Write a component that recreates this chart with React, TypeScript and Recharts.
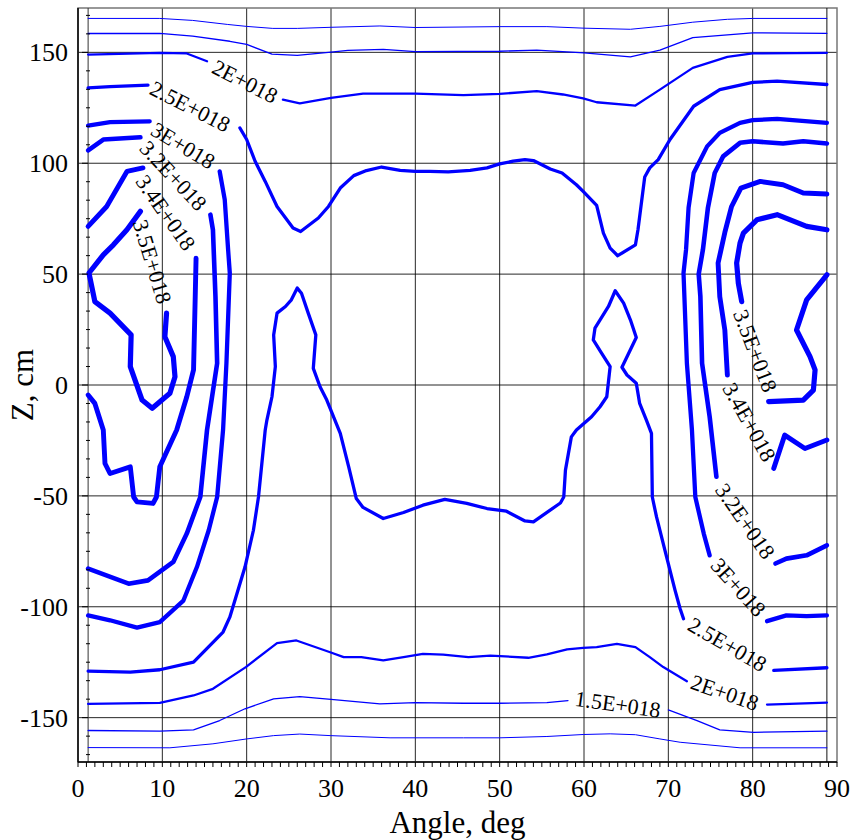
import React from "react";
import {
  ComposedChart,
  Line,
  Scatter,
  XAxis,
  YAxis,
  CartesianGrid,
  ReferenceLine,
  ReferenceArea,
} from "recharts";

type Pt = [number, number]; // [angle, deg ; Z, cm]

// ---- contour lines ----
const lv10Top: Pt[] = [[1.2,165.3],[9.7,165.3],[13.6,164.4],[17.7,162.6],[20,161.7],[23.1,160.8],[26,160.8],[30,161.3],[35.8,161.9],[40,161.2],[50,161.6],[55.6,161.6],[60,160.9],[65.5,160.4],[69,161.7],[72.9,163.6],[77,164.9],[80,165.3],[88.8,165.3]];
const lv10Bottom: Pt[] = [[1.2,-163.5],[10.9,-163.6],[16,-161.8],[20,-159.6],[23.2,-158.1],[26.3,-157.4],[29.9,-158.1],[37,-159.1],[45.7,-159.1],[50,-159.1],[55.6,-158.5],[59.9,-157.6],[63.1,-157.3],[66.1,-157.7],[69,-159.6],[71.4,-161.1],[78.5,-163.6],[88.8,-163.6]];

const lv15Top: Pt[] = [[1.2,158.5],[9.7,158.6],[13.6,157.3],[18,155],[20,153.6],[23,149.2],[26,148.6],[30,150.1],[32,150.9],[36.2,151.3],[40,150.3],[50,150.5],[54.4,151],[60,149.8],[65.5,148],[69,151],[72.9,156.6],[80,158.8],[88.8,158.6]];
const lv15BottomA: Pt[] = [[1.2,-155.8],[9.7,-156.1],[13.7,-155.5],[16.8,-151.3],[19.8,-146],[23.2,-141.5],[26.3,-140.5],[30,-141.8],[35.8,-143.8],[40,-143.2],[45.7,-143.5],[50,-143.5],[55.6,-143.2],[58.1,-142.3]];
const lv15BottomB: Pt[] = [[70,-146.5],[73.4,-151.3],[76.1,-155.5],[80.1,-156.6],[88.8,-156.1]];

const lv20TopA: Pt[] = [[1.2,149],[9.7,149.8],[12.9,149.5],[15.3,146]];
const lv20TopB: Pt[] = [[24.3,128.7],[26.3,127],[30,129.5],[33.8,131.4],[40,131.4],[45.7,130.7],[50,131.3],[54.4,132.5],[57.5,131],[59.9,129.2],[61.5,127.5],[66.1,126],[69,133.2],[72.9,143],[77,148],[80,149.5],[88.8,149.8]];
const lv20BottomA: Pt[] = [[1.2,-143.8],[9.7,-143.3],[13.7,-140],[16,-137],[19.9,-127.2],[23.6,-116.4],[25.9,-115.2],[29.9,-120.5],[31.5,-122.7],[33.6,-122.7],[36.2,-124.2],[38.6,-122.7],[40.9,-121.2],[43.3,-121.6],[46.3,-122.7],[48.9,-122],[53.4,-123],[55.6,-121.5],[58,-119.2],[59.9,-118.5],[61.5,-118.2],[63.9,-116.7],[66.1,-118.2],[67.8,-122.7],[69.4,-127.2],[72.2,-133.6]];
const lv20BottomB: Pt[] = [[81.7,-144.1],[88.8,-143.2]];

const lv25TopA: Pt[] = [[1.2,134],[3.8,134.5],[8.3,135.2]];
const lv25TopB: Pt[] = [[19.2,115.9],[20,110.7],[21,100.9],[22.2,91.8],[23.6,80.5],[25.5,70.8],[26.4,69.2],[28.5,75.3],[29.7,80.5],[31.1,88.8],[32.7,94.4],[34.2,96.7],[36,98.3],[38.2,96.8],[40,96.3],[41.7,96.3],[43.9,96.1],[46.5,96.8],[48.5,97.9],[50,99.7],[51.6,100.9],[53,101.6],[54,101.2],[56,97.4],[57.4,95.6],[59.1,90.3],[59.9,87.3],[61.5,81],[62.3,68.5],[63.1,61.7],[64,58.3],[66.1,63.2],[66.4,70],[67.2,93.8],[67.8,97.9],[68.8,101.6],[70.2,110.7],[73,125.7],[76.1,133.2],[80,136.5],[82.9,137],[88.8,135.5]];
const lv25BottomA: Pt[] = [[1.2,-129],[6.2,-129.5],[9.7,-128.4],[13.7,-125],[17.2,-111.4],[18,-104.7],[19.2,-89.6],[19.8,-82.1],[20.8,-65.5],[21.4,-50.5],[21.8,-35.4],[22.2,-20.3],[22.4,-15.8],[23,-5.3],[23.4,8.3],[23.2,22.6],[23.6,32.4],[24.6,35.4],[25.3,38.4],[26,43.7],[26.5,41.4],[27.3,32.4],[28.2,22.6],[27.9,7.5],[28.7,-0.8],[29.5,-6.8],[31.1,-21.8],[32.1,-36.9],[33,-51.2],[33.8,-55.2],[36.2,-60.2],[38.6,-57.5],[40.9,-54.2],[43.5,-51.6],[46.1,-53.4],[48.5,-55.7],[50.8,-56.9],[53,-61.3],[54,-61.7],[57.2,-53.2],[57.6,-50.5],[57.8,-38.4],[58.5,-23.4],[59.1,-20.3],[60.9,-14.3],[61.9,-9.8],[62.7,-5.3],[63.1,8.3],[62.1,14.3],[61.1,20.3],[61.3,25.6],[62.9,35.4],[63.7,42.5],[64.7,36.9],[65.5,29.4],[66.2,21.4],[64.5,8],[65.1,4.5],[66.2,0.8],[66.6,-8.3],[67.4,-15.8],[68,-21.8],[68.1,-50.5],[68.6,-59.5],[69.8,-77.6],[70.8,-92.6],[71.4,-100.9],[71.8,-105.4]];
const lv25BottomB: Pt[] = [[82.5,-128.7],[88.8,-127.5]];

const lv30LeftA: Pt[] = [[1.2,117],[3.8,118.5],[8.5,118.9]];
const lv30LeftB: Pt[] = [[16.8,96.3],[17.4,83.6],[17.8,61],[18,50.5],[17.6,9.8],[17.2,-20.3],[16.5,-50.5],[15.5,-65.5],[14.1,-82.1],[12.5,-97.2],[9.7,-106.9],[7,-109.4],[3.8,-106.1],[1.2,-103.9]];
const lv30RightA: Pt[] = [[88.8,118.2],[82.9,120],[80,119.4],[78.5,118.2],[76.1,113.7],[74.6,107.6],[73,95.6],[72.4,80],[72.1,61],[71.8,50.5],[72.2,9.8],[72.8,-20.3],[73.2,-50.5],[74.2,-67],[74.9,-76.8]];
const lv30RightB: Pt[] = [[81.7,-106.5],[84,-103.9],[86.4,-104.2],[88.8,-103.9]];

const lv32LeftA: Pt[] = [[1.2,105.8],[3,110.7],[7.4,111.7]];
const lv32LeftB: Pt[] = [[15.7,76.8],[16,70],[16.3,39.9],[16.5,9.8],[15.3,-20.3],[14.5,-50.5],[12.9,-67],[11.3,-79.8],[8.3,-88.1],[6,-89.6],[1.2,-82.8]];
const lv32RightA: Pt[] = [[88.8,108.9],[86,109.9],[83.6,108.9],[80,109.9],[78.5,109.2],[76.5,103.1],[75.5,95.6],[74.7,80],[74.1,61],[73.6,50],[73.8,39.9],[74,9.8],[74.9,-14.3],[75.7,-41.4]];
const lv32RightB: Pt[] = [[82.7,-80.5],[84,-78.3],[86.4,-76.8],[88.8,-72.3]];

const lv34LeftA: Pt[] = [[1.2,71.5],[3.4,80.5],[5.8,96.3],[7.7,97.9]];
const lv34LeftB: Pt[] = [[14,57.2],[13.9,39.9],[13.7,6.8],[12.9,-5.3],[11.7,-20.3],[9.7,-36.9],[9.3,-50.5],[8.9,-53.4],[7,-52.7],[6.6,-50.5],[6.2,-36.9],[3.8,-39.9],[3.2,-35.4],[3,-20.3],[2,-8.3],[1.2,-4.5]];
const lv34RightA: Pt[] = [[88.8,86.1],[86,86.6],[83.6,90.3],[80.9,91.8],[78.6,88.8],[77.5,80.5],[76.7,68.8],[75.9,55],[76.1,39.9],[76.7,24.8],[77,4.5]];
const lv34RightB: Pt[] = [[82.5,-37.6],[83.8,-22.6],[86.2,-28.6],[88.8,-24.8]];

const lv35Left: Pt[] = [[7.4,78.3],[5.8,70],[4.2,63.2],[3,58.7],[1.3,50.5],[2,37.6],[3.8,32.4],[6.3,22.6],[6.2,8.3],[7.6,-6.8],[8.8,-10.5],[10.9,-3.7],[11.5,3.7],[11.3,12.8],[10.3,21.8],[10.5,32.4]];
const lv35RightA: Pt[] = [[88.8,70],[86.4,71.5],[82.9,76.8],[80.5,74.5],[78.9,68.5],[78.5,64],[78.1,55],[78.3,45.9],[78.7,37.6]];
const lv35RightB: Pt[] = [[81.9,-7.5],[86,-6.8],[87.2,-2.3],[87.4,6.8],[86.8,12.8],[85.2,24.8],[86.4,38.4],[88.8,49.7]];

const contours = [
  { level: "1E+018", segments: [lv10Top, lv10Bottom] },
  { level: "1.5E+018", segments: [lv15Top, lv15BottomA, lv15BottomB] },
  { level: "2E+018", segments: [lv20TopA, lv20TopB, lv20BottomA, lv20BottomB] },
  { level: "2.5E+018", segments: [lv25TopA, lv25TopB, lv25BottomA, lv25BottomB] },
  { level: "3E+018", segments: [lv30LeftA, lv30LeftB, lv30RightA, lv30RightB] },
  { level: "3.2E+018", segments: [lv32LeftA, lv32LeftB, lv32RightA, lv32RightB] },
  { level: "3.4E+018", segments: [lv34LeftA, lv34LeftB, lv34RightA, lv34RightB] },
  { level: "3.5E+018", segments: [lv35Left, lv35RightA, lv35RightB] },
];

const lineWidth: Record<string, number> = {
  "1E+018": 1,
  "1.5E+018": 1.3,
  "2E+018": 2.3,
  "2.5E+018": 3.3,
  "3E+018": 4.3,
  "3.2E+018": 4.6,
  "3.4E+018": 4.9,
  "3.5E+018": 5.2,
};

// in-line contour labels
const labels = [
  { a: 19.8, z: 136.9, text: "2E+018" },
  { a: 13.3, z: 125.6, text: "2.5E+018" },
  { a: 12.45, z: 108, text: "3E+018" },
  { a: 11.3, z: 94.4, text: "3.2E+018" },
  { a: 10.4, z: 77.7, text: "3.4E+018" },
  { a: 8.8, z: 55.6, text: "3.5E+018" },
  { a: 80.3, z: 15.4, text: "3.5E+018" },
  { a: 79.6, z: -16.7, text: "3.4E+018" },
  { a: 79.1, z: -61.4, text: "3.2E+018" },
  { a: 78.3, z: -91.2, text: "3E+018" },
  { a: 77.0, z: -117, text: "2.5E+018" },
  { a: 76.7, z: -138.7, text: "2E+018" },
  { a: 64.0, z: -144, text: "1.5E+018" },
];
const labelTilt = [27, 27, 31, 47, 55, 73, 69, 61, 55, 48, 30, 19, 8];

// axes
const angleGrid = [10, 20, 30, 40, 50, 60, 70, 80];
const angleMinor = Array.from({ length: 91 }, (_, i) => i);
const zLabels = [-150, -100, -50, 0, 50, 100, 150];
const zMinor = Array.from({ length: 41 }, (_, i) => ((i - 20) * 50) / 6);
const gridStart = 1.2;
const gridEnd = 88.8;

const FONT = "'Liberation Serif', 'Times New Roman', serif";

const toRows = (seg: Pt[]) => seg.map(([a, z]) => ({ a, z }));

function XTick(props: any) {
  const { x, y, payload } = props;
  if (payload.value % 10 !== 0) return <g />;
  return (
    <text x={x} y={y} dy="0.71em" textAnchor="middle" fontSize={26} fontFamily={FONT} fill="#000">
      {payload.value}
    </text>
  );
}

function YTick(props: any) {
  const { x, y, payload } = props;
  const v = payload.value;
  const major = zLabels.some((t) => Math.abs(t - v) < 1e-6);
  if (!major) {
    return <line x1={x + 18} x2={x + 22} y1={y} y2={y} stroke="#000" />;
  }
  return (
    <g>
      <line x1={x + 14} x2={x + 20} y1={y} y2={y} stroke="#000" />
      <text x={x} y={y} dy="0.35em" textAnchor="end" fontSize={26} fontFamily={FONT} fill="#000">
        {Math.round(v)}
      </text>
    </g>
  );
}

function ContourLabel(props: any) {
  const { cx, cy, payload } = props;
  const i = labels.findIndex((l) => l.a === payload.a && l.z === payload.z);
  const tilt = labelTilt[i] ?? 0;
  return (
    <text
      x={cx}
      y={cy}
      transform={`rotate(${tilt} ${cx} ${cy})`}
      textAnchor="middle"
      dominantBaseline="central"
      fontSize={22}
      fontFamily={FONT}
      fill="#000"
    >
      {payload.text}
    </text>
  );
}

export default function App() {
  return (
    <div>
      <style>{"html,body{margin:0;overflow:hidden;background:#fff}"}</style>
      <ComposedChart
        width={853}
        height={840}
        margin={{ top: 8, right: 16, bottom: 0, left: 0 }}
        style={{ fontFamily: FONT }}
      >
        <CartesianGrid
          horizontalValues={zLabels}
          verticalValues={angleGrid}
          stroke="#000"
          strokeOpacity={0.85}
        />
        <XAxis
          type="number"
          dataKey="a"
          domain={[0, 90]}
          ticks={angleMinor}
          interval={0}
          allowDataOverflow
          height={78}
          tickSize={5}
          tickMargin={12}
          tickLine={{ stroke: "#000" }}
          axisLine={{ stroke: "#000", strokeWidth: 1.5 }}
          tick={<XTick />}
          label={{
            value: "Angle, deg",
            position: "insideBottom",
            offset: 7,
            style: { fontSize: 31, fontFamily: FONT, fill: "#000" },
          }}
        />
        <YAxis
          type="number"
          dataKey="z"
          domain={[-170, 170]}
          ticks={zMinor}
          interval={0}
          allowDataOverflow
          width={78}
          tickSize={0}
          tickMargin={10}
          tickLine={false}
          axisLine={{ stroke: "#000", strokeWidth: 1.5 }}
          tick={<YTick />}
          label={{
            value: "Z, cm",
            angle: -90,
            position: "insideLeft",
            offset: 22,
            style: { fontSize: 31, fontFamily: FONT, fill: "#000", textAnchor: "middle" },
          }}
        />
        <ReferenceArea x1={0} x2={90} y1={-170} y2={170} fill="none" stroke="#777" strokeWidth={1.5} />
        <ReferenceLine x={gridStart} stroke="#333" />
        <ReferenceLine x={gridEnd} stroke="#111" />
        {contours.flatMap((c) =>
          c.segments.map((seg, i) => (
            <Line
              key={`${c.level}-${i}`}
              data={toRows(seg)}
              dataKey="z"
              type="linear"
              stroke="#0000ff"
              strokeWidth={lineWidth[c.level]}
              strokeLinecap="round"
              strokeLinejoin="round"
              dot={false}
              activeDot={false}
              isAnimationActive={false}
            />
          ))
        )}
        <Scatter data={labels} dataKey="z" shape={<ContourLabel />} isAnimationActive={false} />
      </ComposedChart>
    </div>
  );
}
